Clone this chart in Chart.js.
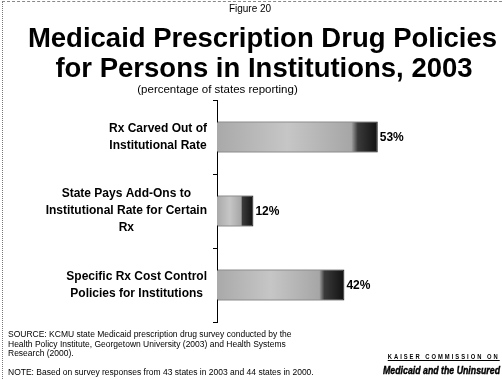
<!DOCTYPE html>
<html>
<head>
<meta charset="utf-8">
<script src="https://cdn.jsdelivr.net/npm/chart.js@4.4.1/dist/chart.umd.min.js"></script>
<style>
  html, body { margin: 0; padding: 0; background: #fff; overflow: hidden; }
  #wrap { position: relative; width: 502px; height: 379px; overflow: hidden; font-family: "Liberation Sans", Arial, sans-serif; color: #000; }
  #wrap canvas { position: absolute; left: 0; top: 0; }
  .t { position: absolute; white-space: nowrap; line-height: 1; }
  #frameL { position: absolute; left: 2px; top: 2px; width: 0; height: 377px; border-left: 1px dotted #777; }
  #frameT { position: absolute; left: 2px; top: 1px; width: 500px; height: 0; border-top: 1px dashed #888; }
  .fit { transform-origin: right center; }
</style>
</head>
<body>
<div id="wrap">
  <canvas id="c" width="502" height="379"></canvas>
  <div id="frameL"></div>
  <div id="frameT"></div>
  <div class="t" style="left:0; width:500px; text-align:center; top:4px; font-size:10px;">Figure 20</div>
  <div class="t" style="left:0; width:525px; text-align:center; top:23.5px; font-size:27.5px; font-weight:bold;">Medicaid Prescription Drug Policies</div>
  <div class="t" style="left:0; width:528px; text-align:center; top:53.5px; font-size:27.5px; font-weight:bold;">for Persons in Institutions, 2003</div>
  <div class="t" style="left:0; width:435px; text-align:center; top:84px; font-size:11.5px;">(percentage of states reporting)</div>
  <div class="t" style="left:8px; top:330px; font-size:8.5px; line-height:9.5px;">SOURCE: KCMU state Medicaid prescription drug survey conducted by the<br>Health Policy Institute, Georgetown University (2003) and Health Systems<br>Research (2000).</div>
  <div class="t" style="left:8px; top:368px; font-size:8.5px;">NOTE: Based on survey responses from 43 states in 2003 and 44 states in 2000.</div>
  <div class="t fit" data-w="112" style="right:2px; top:353px; font-size:7px; font-weight:bold; letter-spacing:2.4px; text-decoration:underline;">KAISER COMMISSION ON</div>
  <div class="t fit" data-w="117" style="right:2px; top:365px; font-size:10.5px; font-weight:bold; font-style:italic; -webkit-text-stroke:0.4px #000;">Medicaid and the Uninsured</div>
</div>
<script>
const categories = [
  ["Rx Carved Out of", "Institutional Rate"],
  ["State Pays Add-Ons to", "Institutional Rate for Certain", "Rx"],
  ["Specific Rx Cost Control", "Policies for Institutions"]
];
const values = [53, 12, 42];
const valueSuffix = "%";

document.querySelectorAll(".fit").forEach(el => {
  const w = el.getBoundingClientRect().width;
  el.style.transform = "scaleX(" + (parseFloat(el.dataset.w) / w) + ")";
});

const labelFont = "bold 12px 'Liberation Sans', Arial, sans-serif";
const labelLine = 17;

function barFill(ctx) {
  const chart = ctx.chart;
  const area = chart.chartArea;
  if (!area) return "#b4b4b4";
  const xs = chart.scales.x;
  const x0 = xs.getPixelForValue(0);
  const x1 = xs.getPixelForValue(ctx.raw);
  const w = Math.max(1, x1 - x0);
  const dark = Math.min(20, w * 0.3);
  const g = chart.ctx.createLinearGradient(x0, 0, x1, 0);
  const s = (w - dark) / w;
  g.addColorStop(0, "#a9a9a9");
  g.addColorStop(Math.max(0, s * 0.5), "#c6c6c6");
  g.addColorStop(Math.max(0, s - 0.04), "#a6a6a6");
  g.addColorStop(s, "#3a3a3a");
  g.addColorStop(1, "#111111");
  return g;
}

// Category labels: each block right-aligned next to the axis, lines centred within the block
const categoryLabels = {
  id: "categoryLabels",
  afterDraw(chart) {
    const c = chart.ctx;
    const ys = chart.scales.y;
    const right = ys.right - 10;
    c.save();
    c.font = labelFont;
    c.fillStyle = "#000";
    c.textAlign = "center";
    c.textBaseline = "middle";
    ys.ticks.forEach((t, i) => {
      const lines = [].concat(chart.data.labels[i]);
      const widest = Math.max(...lines.map(l => c.measureText(l).width));
      const cx = right - widest / 2;
      const cy = ys.getPixelForTick(i);
      const top = cy - (lines.length - 1) * labelLine / 2;
      lines.forEach((l, k) => c.fillText(l, cx, top + k * labelLine));
    });
    c.restore();
  }
};

const valueLabels = {
  id: "valueLabels",
  afterDatasetsDraw(chart) {
    const c = chart.ctx;
    const meta = chart.getDatasetMeta(0);
    c.save();
    c.font = "bold 12px 'Liberation Sans', Arial, sans-serif";
    c.fillStyle = "#000";
    c.textAlign = "left";
    c.textBaseline = "middle";
    meta.data.forEach((bar, i) => {
      c.fillText(values[i] + valueSuffix, bar.x + 2, bar.y + 1);
    });
    c.restore();
  }
};

new Chart(document.getElementById("c"), {
  type: "bar",
  data: {
    labels: categories,
    datasets: [{
      data: values,
      backgroundColor: barFill,
      borderColor: "#1a1a1a",
      borderWidth: 1,
      borderSkipped: "left",
      categoryPercentage: 1,
      barPercentage: 0.42
    }]
  },
  options: {
    indexAxis: "y",
    responsive: false,
    animation: false,
    devicePixelRatio: 1,
    layout: { padding: { top: 100, bottom: 57, left: 0, right: 12 } },
    plugins: { legend: { display: false }, tooltip: { enabled: false }, title: { display: false } },
    scales: {
      x: { display: false, min: 0, max: 90 },
      y: {
        afterFit(scale) { scale.width = 217; },
        grid: { offset: true, drawOnChartArea: false, drawTicks: true, tickLength: 4, color: "#000" },
        border: { display: true, color: "#000", width: 1 },
        ticks: { display: false }
      }
    }
  },
  plugins: [valueLabels, categoryLabels]
});
</script>
</body>
</html>
